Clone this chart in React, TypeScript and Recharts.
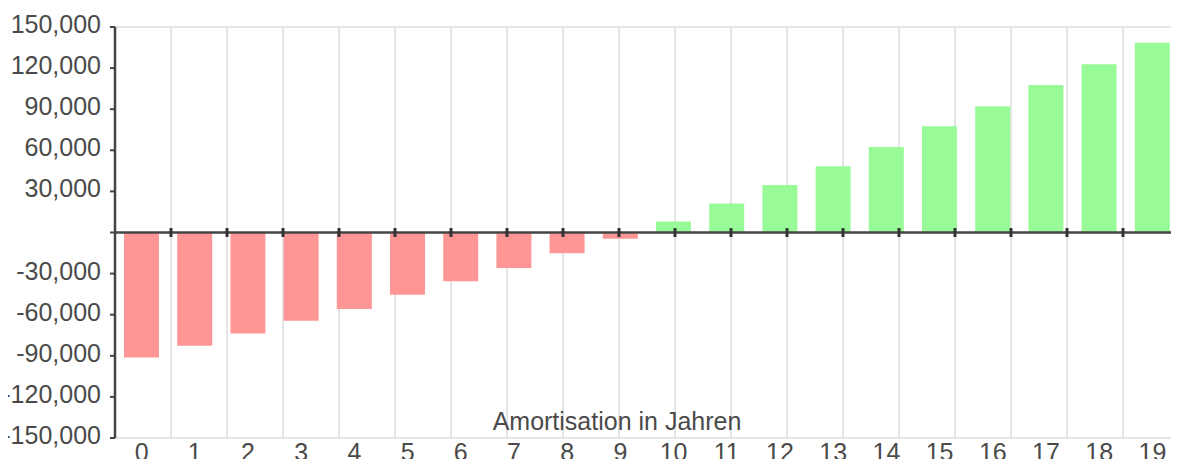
import {
  BarChart,
  Bar,
  XAxis,
  YAxis,
  CartesianGrid,
  ReferenceLine,
  Cell,
  Label,
} from "recharts";

// Jahre (Kategorien) und kumulierte Amortisation
const years = ["0", "1", "2", "3", "4", "5", "6", "7", "8", "9", "10", "11", "12", "13", "14", "15", "16", "17", "18", "19"];
const amortisation = [
  -91200, -82700, -73700, -64400, -55800, -45400, -35600, -25900, -15100, -4600,
  8000, 21200, 34700, 48300, 62500, 77600, 92200, 107600, 122900, 138500,
];
const yTicks = [150000, 120000, 90000, 60000, 30000, 0, -30000, -60000, -90000, -120000, -150000];
const gridYTicks = [150000, 90000, 30000, -30000, -90000, -150000];

const data = years.map((y, i) => ({ year: y, value: amortisation[i] }));
// category boundaries (grid lines + small ticks on the zero line)
const boundaries = years.map((_, i) => i + 1);

const font = "'Liberation Sans', Arial, sans-serif";
const textColor = "#4a4a4a";

function fmt(v: number): string {
  if (v === 0) return "";
  return v.toLocaleString("en-US");
}

function YTick(props: any) {
  const { x, y, payload } = props;
  return (
    <text x={x} y={y} dy={6} textAnchor="end" fill={textColor} fontSize={25} fontFamily={font}>
      {fmt(payload.value)}
    </text>
  );
}

function XTick(props: any) {
  const { x, y, payload } = props;
  return (
    <text x={x} y={y} dy={23} textAnchor="middle" fill={textColor} fontSize={25} fontFamily={font}>
      {payload.value}
    </text>
  );
}

export default function App() {
  return (
    <div style={{ margin: -8, width: 1179, height: 467, overflow: "hidden", background: "#fff" }}>
      <BarChart
        width={1179}
        height={467}
        data={data}
        margin={{ top: 27, right: 0, left: 0, bottom: 0 }}
        style={{ fontFamily: font }}
      >
        <CartesianGrid xAxisId="grid" yAxisId="grid" stroke="#e4e4e4" strokeWidth={2} />
        <XAxis
          dataKey="year"
          height={29}
          axisLine={false}
          tickLine={false}
          tickSize={0}
          tickMargin={0}
          interval={0}
          tick={<XTick />}
        >
          <Label
            value="Amortisation in Jahren"
            position="top"
            offset={8}
            dx={-30}
            fill={textColor}
            fontSize={25}
          />
        </XAxis>
        <XAxis xAxisId="grid" type="number" domain={[0, 20]} ticks={boundaries} hide />
        <YAxis
          type="number"
          domain={[-150000, 150000]}
          ticks={yTicks}
          interval={0}
          width={115}
          tickSize={5}
          tickMargin={9}
          axisLine={{ stroke: "#444", strokeWidth: 2.5 }}
          tickLine={{ stroke: "#444", strokeWidth: 2 }}
          tick={<YTick />}
        />
        <YAxis yAxisId="grid" type="number" domain={[-150000, 150000]} ticks={gridYTicks} hide />
        <Bar dataKey="value" barSize={35} isAnimationActive={false}>
          {data.map((d, i) => (
            <Cell key={i} fill={d.value < 0 ? "#ff9696" : "#98fb98"} />
          ))}
        </Bar>
        <ReferenceLine y={0} stroke="#444" strokeWidth={2.5} />
        {boundaries.map((b) => (
          <ReferenceLine
            key={b}
            xAxisId="grid"
            segment={[
              { x: b, y: -3300 },
              { x: b, y: 3300 },
            ]}
            stroke="#333"
            strokeWidth={3}
          />
        ))}
      </BarChart>
    </div>
  );
}
